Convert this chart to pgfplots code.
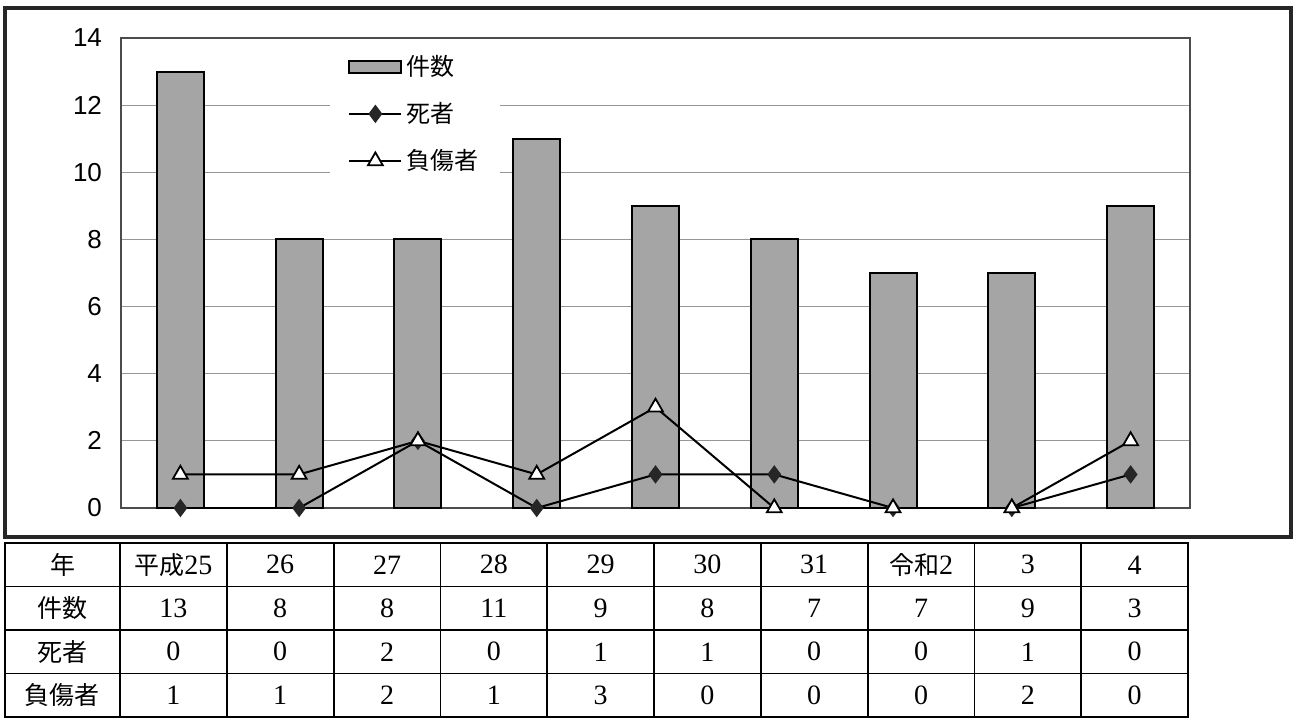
\documentclass[border=0pt]{standalone}
\usepackage{fontspec}
\setmainfont{Liberation Serif}
\newfontfamily\jp{Noto Sans CJK JP}
\newfontfamily\sans{Liberation Sans}
\usepackage{pgfplots}
\pgfplotsset{compat=1.18}
\definecolor{barfill}{RGB}{165,165,165}
\definecolor{gridc}{RGB}{150,150,150}
\pgfplotsset{
  barleg/.style={legend image code/.code={\draw[##1] (0pt,-3pt) rectangle (26pt,3pt);}},
  lineleg/.style={legend image code/.code={\draw[##1, mark repeat=2, mark phase=2]
    plot coordinates {(0pt,0pt) (13pt,0pt) (26pt,0pt)};}},
}

\begin{document}
\begin{tikzpicture}[x=1pt,y=1pt]
\path (0,0) rectangle (647,359);
% outer frame of the chart
\draw[line width=1.6pt, black!85] (2.5,90.5) rectangle (645.5,355);

\begin{axis}[
  at={(60.5pt,105pt)}, anchor=south west,
  scale only axis,
  width=534.5pt, height=235pt,
  xmin=-0.5, xmax=8.5,
  ymin=0, ymax=14,
  ytick={0,2,...,14},
  xtick=\empty,
  major tick length=0pt,
  ymajorgrids=true,
  grid style={gridc, line width=0.45pt},
  axis line style={black!70, line width=0.6pt},
  tick label style={font=\sans\fontsize{13}{15}\selectfont},
  /pgf/number format/assume math mode=true,
  yticklabel style={xshift=-6pt},
  legend style={at={(axis description cs:0.1955,0.99)}, anchor=north west,
    draw=none, fill=white, font=\jp\fontsize{12}{14}\selectfont,
    inner xsep=9pt, inner ysep=4pt, row sep=8pt, cells={anchor=west}},
  legend cell align=left,
]
\addplot[ybar, bar width=23.5pt, fill=barfill, draw=black, line width=1pt, barleg]
  coordinates {(0,13) (1,8) (2,8) (3,11) (4,9) (5,8) (6,7) (7,7) (8,9)};
\addlegendentry{件数}
\addplot[sharp plot, black, line width=1pt, mark=diamond*, mark size=3.8pt,
  mark options={fill=black!85, draw=black!85}, lineleg]
  coordinates {(0,0) (1,0) (2,2) (3,0) (4,1) (5,1) (6,0) (7,0) (8,1)};
\addlegendentry{死者}
\addplot[sharp plot, black, line width=1pt, mark=triangle*, mark size=4.3pt,
  mark options={fill=white, draw=black, line width=0.9pt}, lineleg]
  coordinates {(0,1) (1,1) (2,2) (3,1) (4,3) (5,0) (6,0) (7,0) (8,2)};
\addlegendentry{負傷者}
\end{axis}

% data table below the chart
\def\cw{53.4}
\draw[line width=0.9pt] (2.5,0.5) rectangle (594,87.5);
\foreach \yy in {65.75,44,22.25} \draw[line width=0.9pt] (2.5,\yy) -- (594,\yy);
\draw[line width=0.9pt] (60,0.5) -- (60,87.5);
\foreach \k in {1,...,9} \draw[line width=0.9pt] (60+\k*\cw,0.5) -- (60+\k*\cw,87.5);
% row headers
\node[font=\jp\fontsize{12.5}{14}\selectfont] at (31.25,76.6) {年};
\node[font=\jp\fontsize{12.5}{14}\selectfont] at (31.25,54.9) {件数};
\node[font=\jp\fontsize{12.5}{14}\selectfont] at (31.25,33.1) {死者};
\node[font=\jp\fontsize{12.5}{14}\selectfont] at (31.25,11.4) {負傷者};
% year row
\node[font=\fontsize{14}{16}\selectfont] at (60+0.5*\cw,76.6) {{\jp\fontsize{12.5}{14}\selectfont 平成}25};
\foreach \v [count=\i from 1] in {26,27,28,29,30,31}
  \node[font=\fontsize{14}{16}\selectfont] at (60+\i*\cw+0.5*\cw,76.6) {\v};
\node[font=\fontsize{14}{16}\selectfont] at (60+7.5*\cw,76.6) {{\jp\fontsize{12.5}{14}\selectfont 令和}2};
\node[font=\fontsize{14}{16}\selectfont] at (60+8.5*\cw,76.6) {3};
\node[font=\fontsize{14}{16}\selectfont] at (60+9.5*\cw,76.6) {4};
% values
\foreach \v [count=\i from 0] in {13,8,8,11,9,8,7,7,9,3}
  \node[font=\fontsize{14}{16}\selectfont] at (60+\i*\cw+0.5*\cw,54.9) {\v};
\foreach \v [count=\i from 0] in {0,0,2,0,1,1,0,0,1,0}
  \node[font=\fontsize{14}{16}\selectfont] at (60+\i*\cw+0.5*\cw,33.1) {\v};
\foreach \v [count=\i from 0] in {1,1,2,1,3,0,0,0,2,0}
  \node[font=\fontsize{14}{16}\selectfont] at (60+\i*\cw+0.5*\cw,11.4) {\v};
\end{tikzpicture}
\end{document}
